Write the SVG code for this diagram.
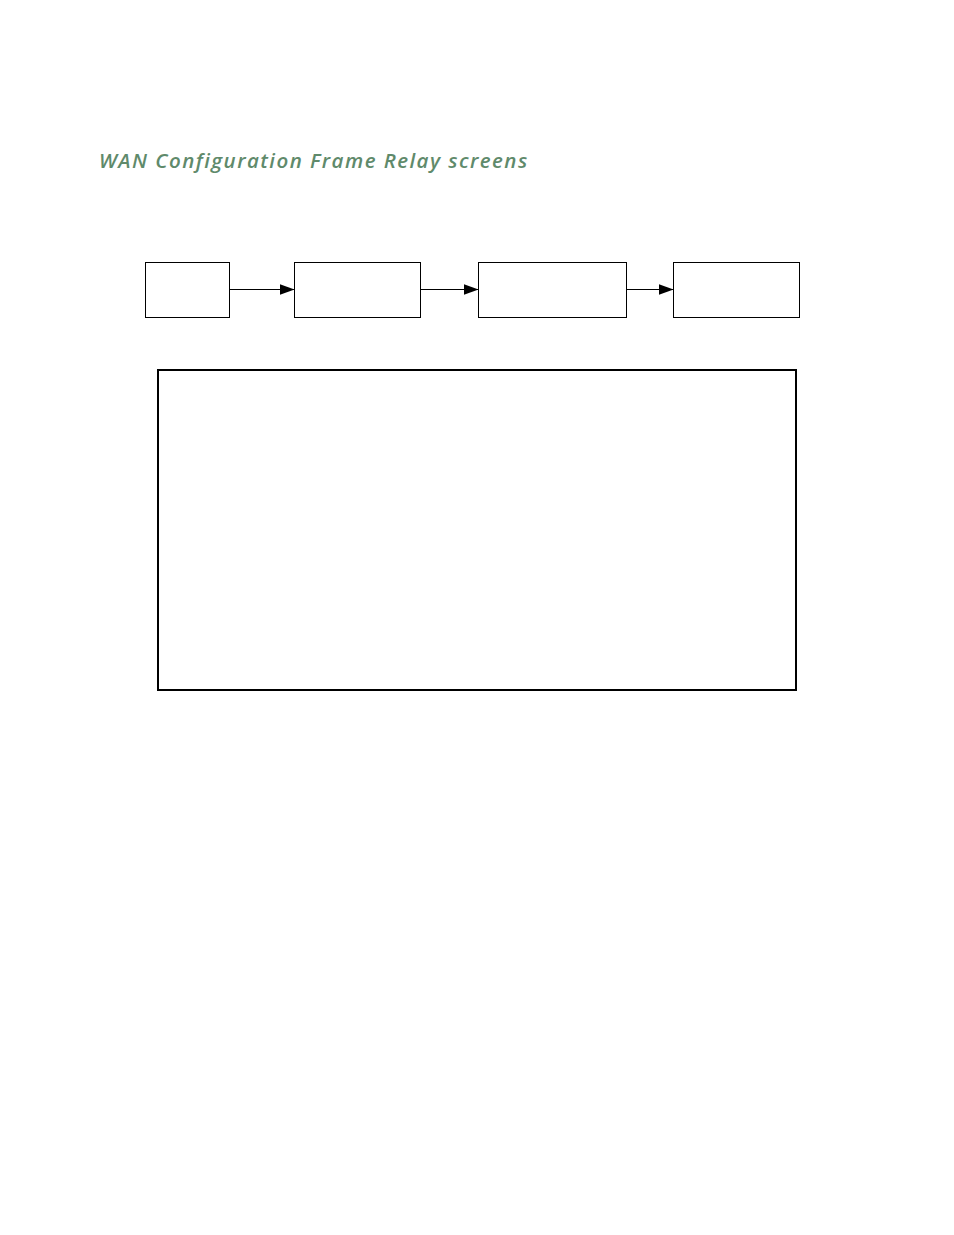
<svg xmlns="http://www.w3.org/2000/svg" width="954" height="1235" viewBox="0 0 954 1235">
<style>
.title{font-family:"Open Sans","Noto Sans",sans-serif;font-style:italic;font-weight:600;font-size:20.5px;fill:#5f8a6b;letter-spacing:0.8px}
.node{fill:#fff;stroke:#000;stroke-width:1}
.conn{stroke:#000;stroke-width:1;fill:none}
.frame{fill:none;stroke:#000;stroke-width:2}
</style>
<defs>
<marker id="arr" markerUnits="userSpaceOnUse" markerWidth="16" markerHeight="12" refX="15" refY="5.5" orient="auto">
<path d="M0,0 L15,5.5 L0,11 Z" fill="#000"/>
</marker>
</defs>
<rect width="954" height="1235" fill="#fff"/>
<text class="title" x="99" y="168" textLength="429" lengthAdjust="spacing">WAN Configuration Frame Relay screens</text>
<g id="n1"><rect class="node" x="145.5" y="262.5" width="84" height="55"/></g>
<g id="n2"><rect class="node" x="294.5" y="262.5" width="126" height="55"/></g>
<g id="n3"><rect class="node" x="478.5" y="262.5" width="148" height="55"/></g>
<g id="n4"><rect class="node" x="673.5" y="262.5" width="126" height="55"/></g>
<g id="connectors">
<line class="conn" x1="229.5" y1="289.5" x2="294.5" y2="289.5" marker-end="url(#arr)"/>
<line class="conn" x1="420.5" y1="289.5" x2="478.5" y2="289.5" marker-end="url(#arr)"/>
<line class="conn" x1="626.5" y1="289.5" x2="673.5" y2="289.5" marker-end="url(#arr)"/>
</g>
<g id="frame"><rect class="frame" x="158" y="370" width="638" height="320"/></g>
</svg>
